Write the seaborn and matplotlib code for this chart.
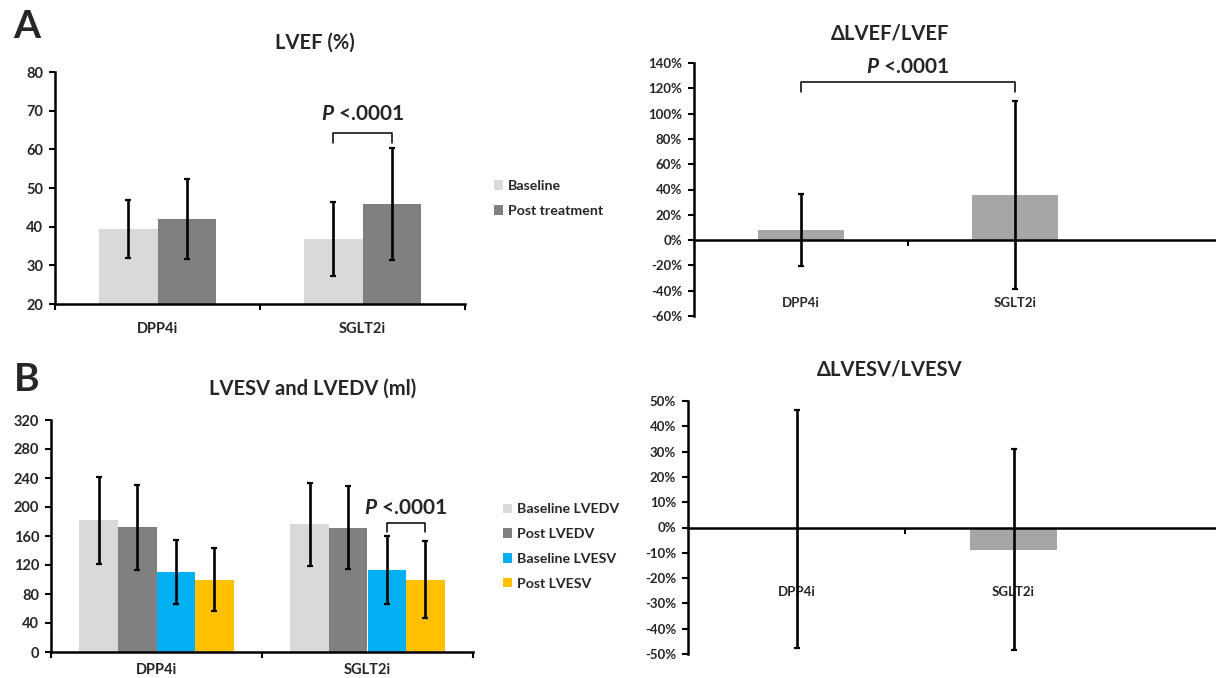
import pandas as pd
import matplotlib.pyplot as plt
import seaborn as sns
from matplotlib.ticker import FuncFormatter

sns.set_style('white')
plt.rcParams['font.family'] = ['Lato', 'DejaVu Sans']
plt.rcParams['font.weight'] = 'bold'
plt.rcParams['axes.unicode_minus'] = False
plt.rcParams['mathtext.fontset'] = 'custom'
plt.rcParams['mathtext.it'] = 'Lato:italic:bold'
plt.rcParams['mathtext.rm'] = 'Lato:bold'

# data (mean, sd)
groups = ['DPP4i', 'SGLT2i']

lvef_base = [39.5, 36.8]
lvef_base_sd = [7.5, 9.6]
lvef_post = [42.0, 45.8]
lvef_post_sd = [10.4, 14.5]

d_lvef = [8.3, 35.5]          # %
d_lvef_sd = [28.5, 74.5]

vol_labels = ['Baseline LVEDV', 'Post LVEDV', 'Baseline LVESV', 'Post LVESV']
base_lvedv = [182, 176]
base_lvedv_sd = [60, 57]
post_lvedv = [172, 171.5]
post_lvedv_sd = [59, 57.5]
base_lvesv = [110, 113]
base_lvesv_sd = [44, 47]
post_lvesv = [100, 100]
post_lvesv_sd = [43, 53]

d_lvesv = [-0.5, -8.8]        # %
d_lvesv_sd = [47, 39.8]

W, H = 1216, 678
fig = plt.figure(figsize=(W / 100, H / 100), dpi=100)


def box(l, t, r, b):
    return [l / W, 1 - b / H, (r - l) / W, (b - t) / H]


def fx(x, y):
    return x / W, 1 - y / H


def style(ax, ylim, yticks, xmax=1.5, zero_axis=False, lsize=10.5):
    ax.set_xlim(-0.5, xmax)
    ax.set_ylim(*ylim)
    ax.set_yticks(yticks)
    for s in ['top', 'right']:
        ax.spines[s].set_visible(False)
    for s in ['left', 'bottom']:
        ax.spines[s].set_linewidth(1.8)
        ax.spines[s].set_color('black')
    if zero_axis:
        ax.spines['bottom'].set_position(('data', 0))
    ax.set_xticks([-0.5, 0.5, 1.5])
    ax.set_xticklabels([])
    ax.tick_params(axis='both', which='major', direction='out', length=4,
                   width=1.5, color='black', labelsize=lsize, left=True,
                   bottom=True, pad=4.5)
    ax.set_xlabel('')
    ax.set_ylabel('')


def add_err(ax, means_list, sds_list):
    conts = list(ax.containers)
    for cont, means, sds in zip(conts, means_list, sds_list):
        xs = [b.get_x() + b.get_width() / 2 for b in cont]
        ax.errorbar(xs, means, yerr=sds, fmt='none', ecolor='black',
                    elinewidth=1.9, capsize=2.4, capthick=1.6, zorder=5)


def bracket(ax, x0, x1, y, leg, text, ty):
    ax.plot([x0, x0, x1, x1], [y - leg, y, y, y - leg], color='black', lw=1.1,
            clip_on=False, zorder=6)
    ax.text((x0 + x1) / 2, ty, text, ha='center', va='center', fontsize=15,
            fontweight='bold')


pct = FuncFormatter(lambda v, p: f'{v:.0f}%')

# ---------- A: LVEF ----------
ax1 = fig.add_axes(box(55, 72, 465, 304))
df_ef = pd.DataFrame({'group': groups * 2,
                      'phase': ['Baseline'] * 2 + ['Post treatment'] * 2,
                      'value': lvef_base + lvef_post})
sns.barplot(data=df_ef, x='group', y='value', hue='phase',
            palette=['#D9D9D9', '#808080'], width=0.57, saturation=1,
            errorbar=None, linewidth=0, ax=ax1)
add_err(ax1, [lvef_base, lvef_post], [lvef_base_sd, lvef_post_sd])
style(ax1, (20, 80), range(20, 81, 10))
ax1.set_xticks([0, 1], minor=True)
ax1.set_xticklabels(groups, minor=True)
ax1.tick_params(axis='x', which='minor', length=0, pad=13, labelsize=10.5)
c0, c1 = ax1.containers[0], ax1.containers[1]
xa = c0[1].get_x() + c0[1].get_width() / 2
xb = c1[1].get_x() + c1[1].get_width() / 2
bracket(ax1, xa, xb, 64.3, 2.6, '$P$ <.0001', 69.2)
sns.move_legend(ax1, 'center left', bbox_to_anchor=fx(487, 198.5),
                bbox_transform=fig.transFigure, frameon=False, title=None,
                fontsize=10.2, borderpad=0, handlelength=0.65, handleheight=0.65,
                handletextpad=0.3, labelspacing=0.9)

# ---------- A: delta LVEF ----------
ax2 = fig.add_axes(box(694, 63, 1216, 316))
df_dlvef = pd.DataFrame({'group': groups, 'value': d_lvef})
sns.barplot(data=df_dlvef, x='group', y='value', color='#A6A6A6', width=0.4,
            saturation=1, errorbar=None, linewidth=0, ax=ax2)
add_err(ax2, [d_lvef], [d_lvef_sd])
style(ax2, (-60, 140), range(-60, 141, 20), xmax=-0.5 + 522 / 214,
      zero_axis=True, lsize=9.5)
ax2.set_xticks([0.5])
ax2.yaxis.set_major_formatter(pct)
for i, g in enumerate(groups):
    ax2.text(i, -50, g, ha='center', va='center', fontsize=9.5, fontweight='bold')
bracket(ax2, 0, 1, 125, 8.3, '$P$ <.0001', 137)

# ---------- B: volumes ----------
ax3 = fig.add_axes(box(51, 420, 473, 652))
vol_means = [base_lvedv, post_lvedv, base_lvesv, post_lvesv]
vol_sds = [base_lvedv_sd, post_lvedv_sd, base_lvesv_sd, post_lvesv_sd]
df_vol = pd.DataFrame({'group': groups * 4,
                       'series': [s for s in vol_labels for _ in groups],
                       'value': sum(vol_means, [])})
sns.barplot(data=df_vol, x='group', y='value', hue='series',
            palette=['#D9D9D9', '#808080', '#00B0F0', '#FFC000'], width=0.73,
            saturation=1, errorbar=None, linewidth=0, ax=ax3)
add_err(ax3, vol_means, vol_sds)
style(ax3, (0, 320), range(0, 321, 40))
ax3.set_xticks([0, 1], minor=True)
ax3.set_xticklabels(groups, minor=True)
ax3.tick_params(axis='x', which='minor', length=0, pad=8, labelsize=10.5)
c2, c3 = ax3.containers[2], ax3.containers[3]
xa = c2[1].get_x() + c2[1].get_width() / 2
xb = c3[1].get_x() + c3[1].get_width() / 2
bracket(ax3, xa, xb, 177.3, 11.6, '$P$ <.0001', 198.5)
sns.move_legend(ax3, 'center left', bbox_to_anchor=fx(496, 546.5),
                bbox_transform=fig.transFigure, frameon=False, title=None,
                fontsize=10.2, borderpad=0, handlelength=0.65, handleheight=0.65,
                handletextpad=0.3, labelspacing=0.9)

# ---------- B: delta LVESV ----------
ax4 = fig.add_axes(box(688, 401, 1216, 654))
df_dlvesv = pd.DataFrame({'group': groups, 'value': d_lvesv})
sns.barplot(data=df_dlvesv, x='group', y='value', color='#A6A6A6', width=0.4,
            saturation=1, errorbar=None, linewidth=0, ax=ax4)
add_err(ax4, [d_lvesv], [d_lvesv_sd])
style(ax4, (-50, 50), range(-50, 51, 10), xmax=-0.5 + 528 / 217,
      zero_axis=True, lsize=9.5)
ax4.set_xticks([0.5])
ax4.yaxis.set_major_formatter(pct)
for i, g in enumerate(groups):
    ax4.text(i, -25.3, g, ha='center', va='center', fontsize=9.5, fontweight='bold')

# titles and panel letters
fig.text(*fx(315, 43), 'LVEF (%)', ha='center', va='center', fontsize=14.5)
fig.text(*fx(890, 33), 'ΔLVEF/LVEF', ha='center', va='center', fontsize=14.5)
fig.text(*fx(313, 389), 'LVESV and LVEDV (ml)', ha='center', va='center', fontsize=14.5)
fig.text(*fx(890, 370), 'ΔLVESV/LVESV', ha='center', va='center', fontsize=14.5)
fig.text(*fx(27, 27), 'A', ha='center', va='center', fontsize=28)
fig.text(*fx(27, 379), 'B', ha='center', va='center', fontsize=28)

fig.savefig('out.png', dpi=100)
